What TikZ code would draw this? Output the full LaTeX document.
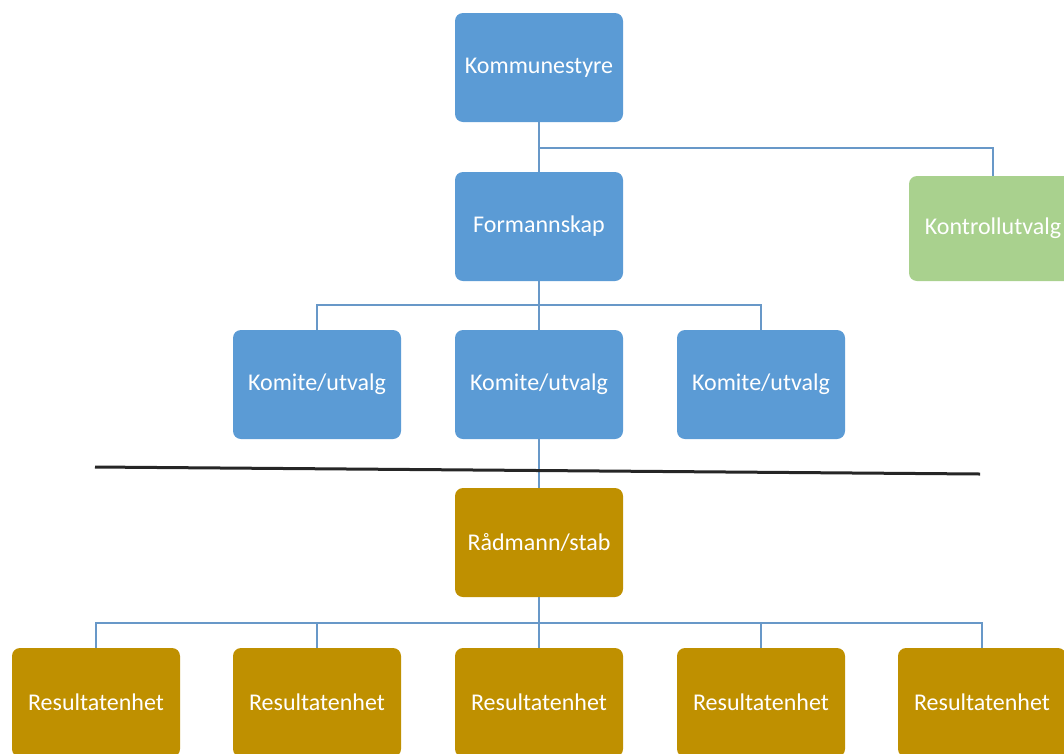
\documentclass[tikz,border=0pt]{standalone}
\usepackage{fontspec}
\setmainfont{Carlito}
\usetikzlibrary{positioning}
\definecolor{boxblue}{RGB}{91,155,213}
\definecolor{boxgreen}{RGB}{169,209,142}
\definecolor{boxgold}{RGB}{191,144,0}
\definecolor{linkblue}{RGB}{104,152,200}

\begin{document}
\begin{tikzpicture}[x=1pt,y=-1pt,
        unit/.style={rounded corners=8pt, minimum width=168pt, minimum height=109pt, inner sep=0pt, text=white, font=\fontsize{24}{28}\selectfont},
        link/.style={draw=linkblue, line width=2pt}]
        \useasboundingbox (0,0) rectangle (1064,753);
        \clip (0,0) rectangle (1064,753);

        %politisk nivaa
        \node [unit, fill=boxblue] (kommunestyre) at (539,67.5) {Kommunestyre};
        \node [unit, fill=boxblue] (formannskap) at (539,226.5) {Formannskap};
        \node [unit, fill=boxgreen, minimum height=105pt] (kontroll) at (993,228.5) {Kontrollutvalg};
        \node [unit, fill=boxblue] (komiteA) at (317,384.5) {Komite/utvalg};
        \node [unit, fill=boxblue] (komiteB) at (539,384.5) {Komite/utvalg};
        \node [unit, fill=boxblue] (komiteC) at (761,384.5) {Komite/utvalg};

        %administrativt nivaa
        \node [unit, fill=boxgold] (raadmann) at (539,542.5) {Rådmann/stab};
        \node [unit, fill=boxgold] (resA) at (96,702.5) {Resultatenhet};
        \node [unit, fill=boxgold] (resB) at (317,702.5) {Resultatenhet};
        \node [unit, fill=boxgold] (resC) at (539,702.5) {Resultatenhet};
        \node [unit, fill=boxgold] (resD) at (761,702.5) {Resultatenhet};
        \node [unit, fill=boxgold] (resE) at (982,702.5) {Resultatenhet};

        \coordinate (busTop) at (539,148);
        \coordinate (busKomite) at (539,305);
        \coordinate (busRes) at (539,623);
        \coordinate (skilleL) at (95,467);
        \coordinate (skilleR) at (980,474);

        \draw [link] (kommunestyre.south) -- (formannskap.north);
        \draw [link] (busTop) -| (kontroll.north);
        \draw [link] (formannskap.south) -- (komiteB.north);
        \draw [link] (busKomite) -| (komiteA.north);
        \draw [link] (busKomite) -| (komiteC.north);
        \draw [link] (komiteB.south) -- (raadmann.north);
        \draw [link] (raadmann.south) -- (resC.north);
        \draw [link] (busRes) -| (resA.north);
        \draw [link] (busRes) -| (resB.north);
        \draw [link] (busRes) -| (resD.north);
        \draw [link] (busRes) -| (resE.north);

        \draw [line width=3pt, color=black!85] (skilleL) -- (skilleR);
\end{tikzpicture}
\end{document}
